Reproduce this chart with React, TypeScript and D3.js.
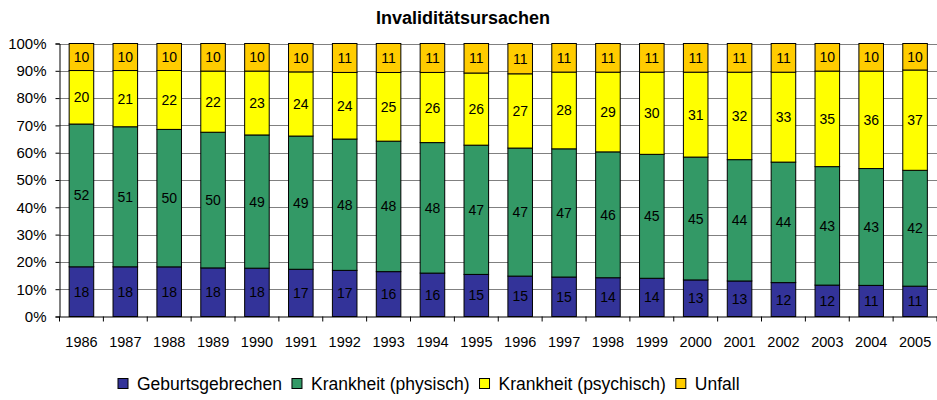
import React, { useEffect, useRef } from "react";
import * as d3 from "d3";

// values (percent, labels are rounded)
const years = [
    "1986", "1987", "1988", "1989", "1990", "1991", "1992", "1993", "1994", "1995",
    "1996", "1997", "1998", "1999", "2000", "2001", "2002", "2003", "2004", "2005",
];
const geburtsgebrechen = [18.2, 18.2, 18.2, 17.8, 17.7, 17.3, 16.9, 16.4, 15.9, 15.4, 14.8, 14.5, 14.2, 14.0, 13.4, 13.0, 12.4, 11.5, 11.4, 11.1];
const krankheitPhysisch = [52.3, 51.3, 50.4, 49.7, 48.8, 48.8, 48.1, 47.7, 47.8, 47.3, 46.9, 47.1, 46.1, 45.4, 45.0, 44.4, 44.1, 43.4, 42.8, 42.4];
const krankheitPsychisch = [19.6, 20.6, 21.6, 22.4, 23.4, 23.5, 24.4, 25.1, 25.7, 26.4, 27.2, 28.2, 29.2, 30.1, 31.1, 32.0, 32.9, 35.0, 35.7, 36.7];
const unfall = [9.9, 9.9, 9.9, 10.1, 10.1, 10.4, 10.6, 10.6, 10.6, 10.8, 11.1, 10.5, 10.5, 10.5, 10.5, 10.5, 10.5, 10.1, 10.1, 9.7];

const seriesNames = ["Geburtsgebrechen", "Krankheit (physisch)", "Krankheit (psychisch)", "Unfall"];
const seriesColors = ["#333399", "#339966", "#FFFF00", "#FFCC00"];
const yTicks = [0, 0.1, 0.2, 0.3, 0.4, 0.5, 0.6, 0.7, 0.8, 0.9, 1];

const width = 937;
const height = 400;
const font = "'Liberation Sans', Arial, sans-serif";

const App: React.FC = () => {
    const svgRef = useRef<SVGSVGElement>(null);

    useEffect(() => {
        if (!svgRef.current) return;
        const svg = d3.select(svgRef.current);
        svg.selectAll("*").remove();

        const plot = { left: 59.5, right: 937, top: 43.5, bottom: 316.5 };

        const rows = years.map((year, i) => ({
            year,
            s0: geburtsgebrechen[i],
            s1: krankheitPhysisch[i],
            s2: krankheitPsychisch[i],
            s3: unfall[i],
        }));
        const keys = ["s0", "s1", "s2", "s3"];
        const stacked = d3.stack<any>().keys(keys).offset(d3.stackOffsetExpand)(rows);

        const x = d3.scaleBand<string>()
            .domain(years)
            .range([plot.left, plot.right])
            .paddingInner(0.44)
            .paddingOuter(0.22);

        const y = d3.scaleLinear().domain([0, 1]).range([plot.bottom, plot.top]);

        // gridlines
        svg.append("g")
            .selectAll("line")
            .data(yTicks.slice(1))
            .join("line")
            .attr("x1", plot.left)
            .attr("x2", plot.right)
            .attr("y1", d => Math.round(y(d)) + 0.5)
            .attr("y2", d => Math.round(y(d)) + 0.5)
            .attr("stroke", "#808080")
            .attr("stroke-width", 1);

        // bars
        const layers = svg.append("g")
            .selectAll("g")
            .data(stacked)
            .join("g")
            .attr("fill", (_d, i) => seriesColors[i]);

        layers.selectAll("rect")
            .data(d => d.map(p => ({ p, year: p.data.year })))
            .join("rect")
            .attr("x", d => x(d.year)!)
            .attr("width", x.bandwidth())
            .attr("y", d => y(d.p[1]))
            .attr("height", d => y(d.p[0]) - y(d.p[1]))
            .attr("stroke", "#000")
            .attr("stroke-width", 1);

        // data labels
        stacked.forEach((layer, si) => {
            svg.append("g")
                .selectAll("text")
                .data(layer)
                .join("text")
                .attr("x", d => x(d.data.year)! + x.bandwidth() / 2)
                .attr("y", d => (y(d[0]) + y(d[1])) / 2)
                .attr("dy", "0.36em")
                .attr("text-anchor", "middle")
                .attr("font-family", font)
                .attr("font-size", 14)
                .attr("fill", "#000")
                .text(d => Math.round(d.data[keys[si]]));
        });

        // y axis
        const yAxis = svg.append("g")
            .attr("transform", `translate(${plot.left},0)`)
            .call(d3.axisLeft(y).tickValues(yTicks).tickSize(4).tickPadding(9).tickFormat(d3.format(".0%")));
        yAxis.select(".domain").attr("stroke", "#000");
        yAxis.selectAll("text")
            .attr("font-family", font)
            .style("font-size", "15px")
            .attr("fill", "#000");

        // x axis with ticks between categories
        const xAxis = svg.append("g")
            .attr("transform", `translate(0,${plot.bottom})`)
            .call(d3.axisBottom(x).tickSize(0).tickPadding(20).tickSizeOuter(0));
        xAxis.select(".domain").attr("stroke", "#000");
        xAxis.selectAll("text")
            .attr("font-family", font)
            .style("font-size", "14.5px")
            .attr("fill", "#000");
        xAxis.append("g")
            .selectAll("line")
            .data(d3.range(years.length + 1))
            .join("line")
            .attr("x1", i => plot.left + i * x.step())
            .attr("x2", i => plot.left + i * x.step())
            .attr("y1", 0)
            .attr("y2", 5)
            .attr("stroke", "#000");

        // title
        svg.append("text")
            .attr("x", 463)
            .attr("y", 24)
            .attr("text-anchor", "middle")
            .attr("font-family", font)
            .attr("font-weight", "bold")
            .attr("font-size", 18)
            .text("Invaliditätsursachen");

        // legend
        const legend = svg.append("g");
        let cx = 118;
        seriesNames.forEach((name, i) => {
            legend.append("rect")
                .attr("x", cx)
                .attr("y", 378.5)
                .attr("width", 10)
                .attr("height", 10)
                .attr("fill", seriesColors[i])
                .attr("stroke", "#000");
            const t = legend.append("text")
                .attr("x", cx + 19)
                .attr("y", 390)
                .attr("font-family", font)
                .attr("font-size", 17.5)
                .text(name);
            const w = (t.node() as SVGTextElement).getComputedTextLength();
            cx += 19 + w + 10;
        });
    }, []);

    return (
        <svg
            ref={svgRef}
            width={width}
            height={height}
            style={{ position: "absolute", left: 0, top: 0, background: "#fff" }}
        ></svg>
    );
};

export default App;
